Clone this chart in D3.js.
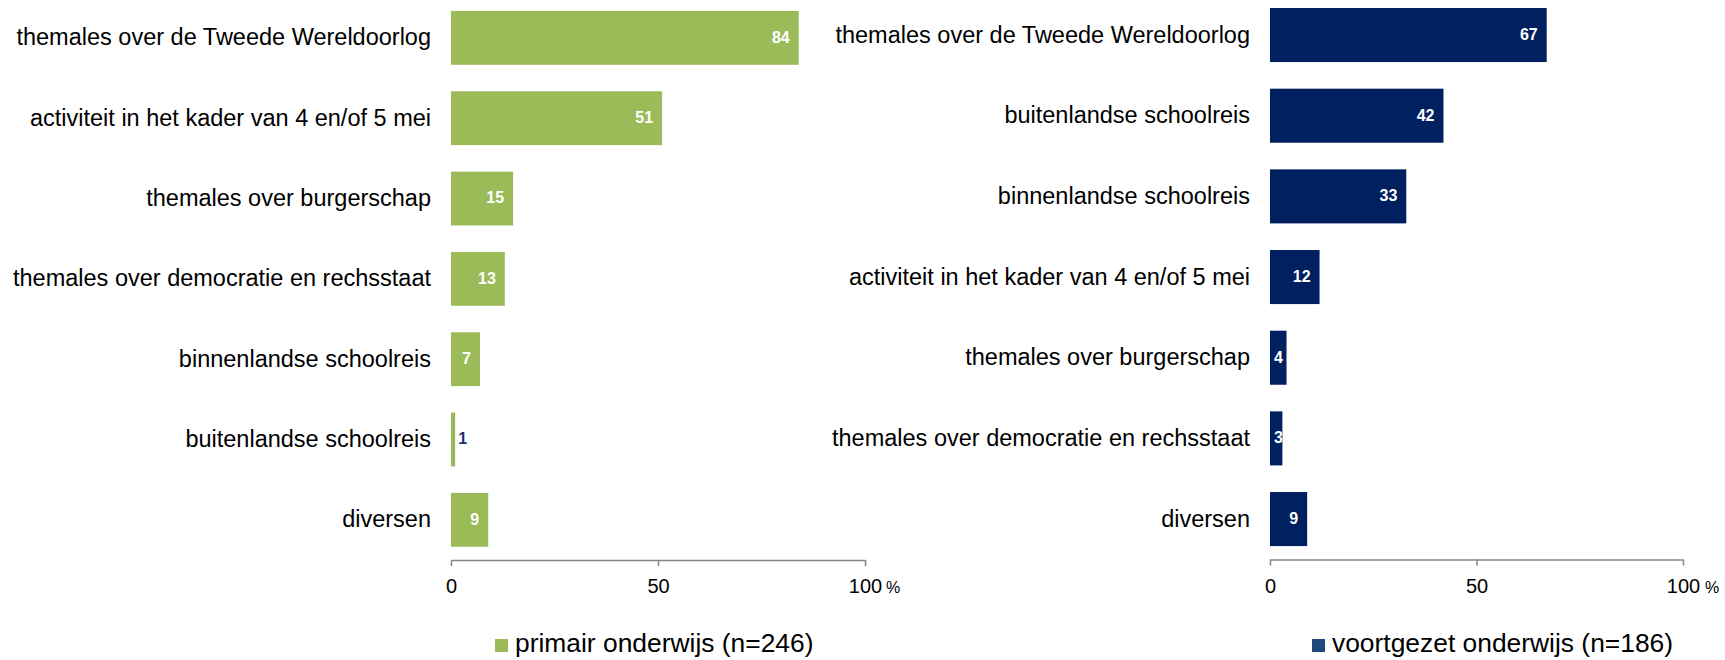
<!DOCTYPE html>
<html>
<head>
<meta charset="utf-8">
<script src="https://cdn.jsdelivr.net/npm/d3@7/dist/d3.min.js"></script>
<style>
  html, body { margin: 0; padding: 0; background: #fff; }
  svg { display: block; font-family: "Liberation Sans", Arial, sans-serif; }
</style>
</head>
<body>
<svg id="chart" width="1725" height="660"></svg>
<script>
// ---- data ----
const poCategories = [
  "themales over de Tweede Wereldoorlog",
  "activiteit in het kader van 4 en/of 5 mei",
  "themales over burgerschap",
  "themales over democratie en rechsstaat",
  "binnenlandse schoolreis",
  "buitenlandse schoolreis",
  "diversen"
];
const poValues = [84, 51, 15, 13, 7, 1, 9];

const voCategories = [
  "themales over de Tweede Wereldoorlog",
  "buitenlandse schoolreis",
  "binnenlandse schoolreis",
  "activiteit in het kader van 4 en/of 5 mei",
  "themales over burgerschap",
  "themales over democratie en rechsstaat",
  "diversen"
];
const voValues = [67, 42, 33, 12, 4, 3, 9];

const tickValues = [0, 50, 100];
const unitLabel = "%";
const poLegend = "primair onderwijs (n=246)";
const voLegend = "voortgezet onderwijs (n=186)";

// ---- drawing ----
const svg = d3.select("#chart");

function panel(cfg) {
  const data = cfg.categories.map((c, i) => ({ cat: c, val: cfg.values[i] }));
  const x = d3.scaleLinear().domain([0, 100]).range([cfg.x0, cfg.x1]);
  const y = d3.scaleBand().domain(cfg.categories).range([cfg.yTop, cfg.yBottom])
    .paddingInner(0.33).paddingOuter(0.165);

  const g = svg.append("g");

  // bars
  g.selectAll("rect.bar").data(data).enter().append("rect")
    .attr("class", "bar")
    .attr("x", x(0))
    .attr("y", d => y(d.cat))
    .attr("width", d => x(d.val) - x(0))
    .attr("height", y.bandwidth())
    .attr("fill", cfg.color);

  // category labels
  g.selectAll("text.cat").data(data).enter().append("text")
    .attr("class", "cat")
    .attr("x", x(0) - 20)
    .attr("y", d => y(d.cat) + y.bandwidth() / 2)
    .attr("dy", "0.32em")
    .attr("text-anchor", "end")
    .attr("font-size", 23.5)
    .attr("fill", "#000")
    .text(d => d.cat);

  // value labels
  const clipId = "clip" + cfg.id;
  const defs = svg.append("defs");
  data.forEach((d, i) => {
    defs.append("clipPath").attr("id", clipId + i).append("rect")
      .attr("x", x(0)).attr("y", y(d.cat))
      .attr("width", x(d.val) - x(0)).attr("height", y.bandwidth());
  });
  g.selectAll("text.val").data(data).enter().append("text")
    .attr("class", "val")
    .each(function(d, i) {
      const w = x(d.val) - x(0);
      const t = d3.select(this);
      const cy = y(d.cat) + y.bandwidth() / 2;
      t.attr("y", cy).attr("dy", "0.3em")
        .attr("font-size", 16).attr("font-weight", "bold").text(d.val);
      if (w < 8) {
        t.attr("x", x(d.val) + 3).attr("text-anchor", "start").attr("fill", "#1F3370");
      } else {
        t.attr("x", Math.max(x(d.val) - 9, x(0) + 13)).attr("text-anchor", "end")
          .attr("fill", "#fff").attr("clip-path", `url(#${clipId + i})`);
      }
    });

  // axis
  const axis = d3.axisBottom(x).tickValues(tickValues).tickSize(6).tickSizeOuter(0).tickPadding(13);
  const ag = g.append("g").attr("transform", `translate(0,${cfg.axisY})`).call(axis);
  ag.select(".domain").attr("stroke", "#868686").attr("stroke-width", 1.5);
  ag.selectAll(".tick line").attr("stroke", "#868686").attr("stroke-width", 1.5);
  ag.selectAll(".tick text").attr("font-size", 20).attr("fill", "#000")
    .attr("font-family", "Liberation Sans, Arial, sans-serif");
  g.append("text")
    .attr("x", x(100) + cfg.pctOffset)
    .attr("y", cfg.axisY + 33)
    .attr("font-size", 16)
    .attr("fill", "#000")
    .text(unitLabel);

  // legend
  const lg = g.append("g");
  lg.append("rect").attr("x", cfg.legendX).attr("y", 639).attr("width", 13).attr("height", 13)
    .attr("fill", cfg.legendColor);
  lg.append("text").attr("x", cfg.legendX + 20).attr("y", 652)
    .attr("font-size", 26.4).attr("fill", "#000").text(cfg.legend);
}

panel({
  id: "po", categories: poCategories, values: poValues,
  x0: 451, x1: 865, yTop: -2.3, yBottom: 560, axisY: 560,
  color: "#9BBB59", legendColor: "#9BBB59", legend: poLegend, legendX: 495, pctOffset: 21
});
panel({
  id: "vo", categories: voCategories, values: voValues,
  x0: 1270, x1: 1683, yTop: -5.3, yBottom: 559.4, axisY: 559.5,
  color: "#00205F", legendColor: "#1F497D", legend: voLegend, legendX: 1312, pctOffset: 22
});
</script>
</body>
</html>
